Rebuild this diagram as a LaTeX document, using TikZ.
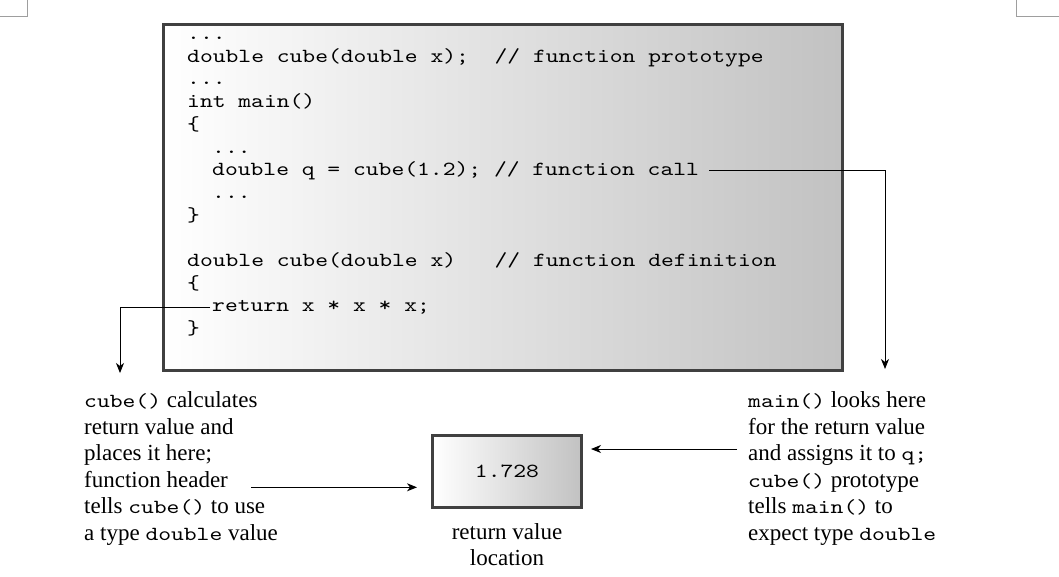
\documentclass[tikz,border=0pt]{standalone}
\usepackage{fontspec}
\setmainfont{Liberation Serif}
\newfontfamily\codefont{lmmono10-regular.otf}[FakeStretch=1.22]
\usetikzlibrary{positioning,arrows.meta,calc}

\newcommand{\cd}[1]{{\codefont\fontsize{20}{22.7}\selectfont #1}}

\tikzset{
  codeline/.style={anchor=base west, inner sep=0pt, font=\codefont\fontsize{20}{22.7}\selectfont},
  noteline/.style={anchor=base west, inner sep=0pt, font=\fontsize{23}{26.6}\selectfont},
  shadebox/.style={draw=black!75, line width=3pt, left color=white, right color=black!24,
                   inner sep=0pt, anchor=north west},
  pointer/.style={line width=1pt, -{Stealth[length=10pt,width=8pt,inset=3pt]}},
  cropmark/.style={draw=black!38, line width=1pt},
}

\begin{document}
\begin{tikzpicture}[x=1pt, y=-1pt]
\useasboundingbox (0,0) rectangle (1059,576);

%page corner marks
\draw[cropmark] (0,16) -- (27,16) -- (27,0);
\draw[cropmark] (1059,16) -- (1016,16) -- (1016,0);

%the code listing
\node[shadebox, minimum width=679pt, minimum height=346pt] (codebox) at (162,23) {};

\node[codeline] (dots1) at (187,39.5)  {...};
\node[codeline] (proto) at (187,62.2)  {double cube(double x);\ \ // function prototype};
\node[codeline] (dots2) at (187,84.9)  {...};
\node[codeline] (main)  at (187,107.6) {int main()};
\node[codeline] (open1) at (187,130.3) {\{};
\node[codeline] (dots3) at (212,153.0) {...};
\node[codeline] (call)  at (212,175.7) {double q = cube(1.2); // function call};
\node[codeline] (dots4) at (212,198.4) {...};
\node[codeline] (shut1) at (187,221.1) {\}};
\node[codeline] (defn)  at (187,266.5) {double cube(double x)\ \ \ // function definition};
\node[codeline] (open2) at (187,289.2) {\{};
\node[codeline] (ret)   at (212,311.9) {return x * x * x;};
\node[codeline] (shut2) at (187,334.6) {\}};

%the return value slot
\node[shadebox, minimum width=149pt, minimum height=72pt,
      font=\codefont\fontsize{20}{22.7}\selectfont] (valbox) at (431,434) {1.728};
\node[noteline, anchor=north, align=center, below=14pt of valbox] (caption)
  {return value\\location};

%left note
\foreach \txt [count=\i] in {{\cd{cube()} calculates}, return value and, places it here;,
    function header, tells \cd{cube()} to use, a type \cd{double} value}
  \node[noteline] (lnote\i) at (84,{407.5+(\i-1)*26.6}) {\txt};

%right note
\foreach \txt [count=\i] in {{\cd{main()} looks here}, for the return value,
    and assigns it to \cd{q;}, \cd{cube()} prototype, tells \cd{main()} to,
    expect type \cd{double}}
  \node[noteline] (rnote\i) at (748,{407.5+(\i-1)*26.6}) {\txt};

%arrows
\coordinate (calltip) at (885,369);
\coordinate (rettip) at (120,373);
\coordinate (look) at (737,449);
\draw[pointer] ([xshift=10pt]call.east) -| (calltip);
\draw[pointer] ([xshift=-2pt]ret.west) -| (rettip);
\draw[pointer, shorten >=14pt] ([xshift=23pt]lnote4.base east) -- (lnote4.base east -| valbox.west);
\draw[pointer, shorten >=8pt] (look) -- (look -| valbox.east);

\end{tikzpicture}
\end{document}
